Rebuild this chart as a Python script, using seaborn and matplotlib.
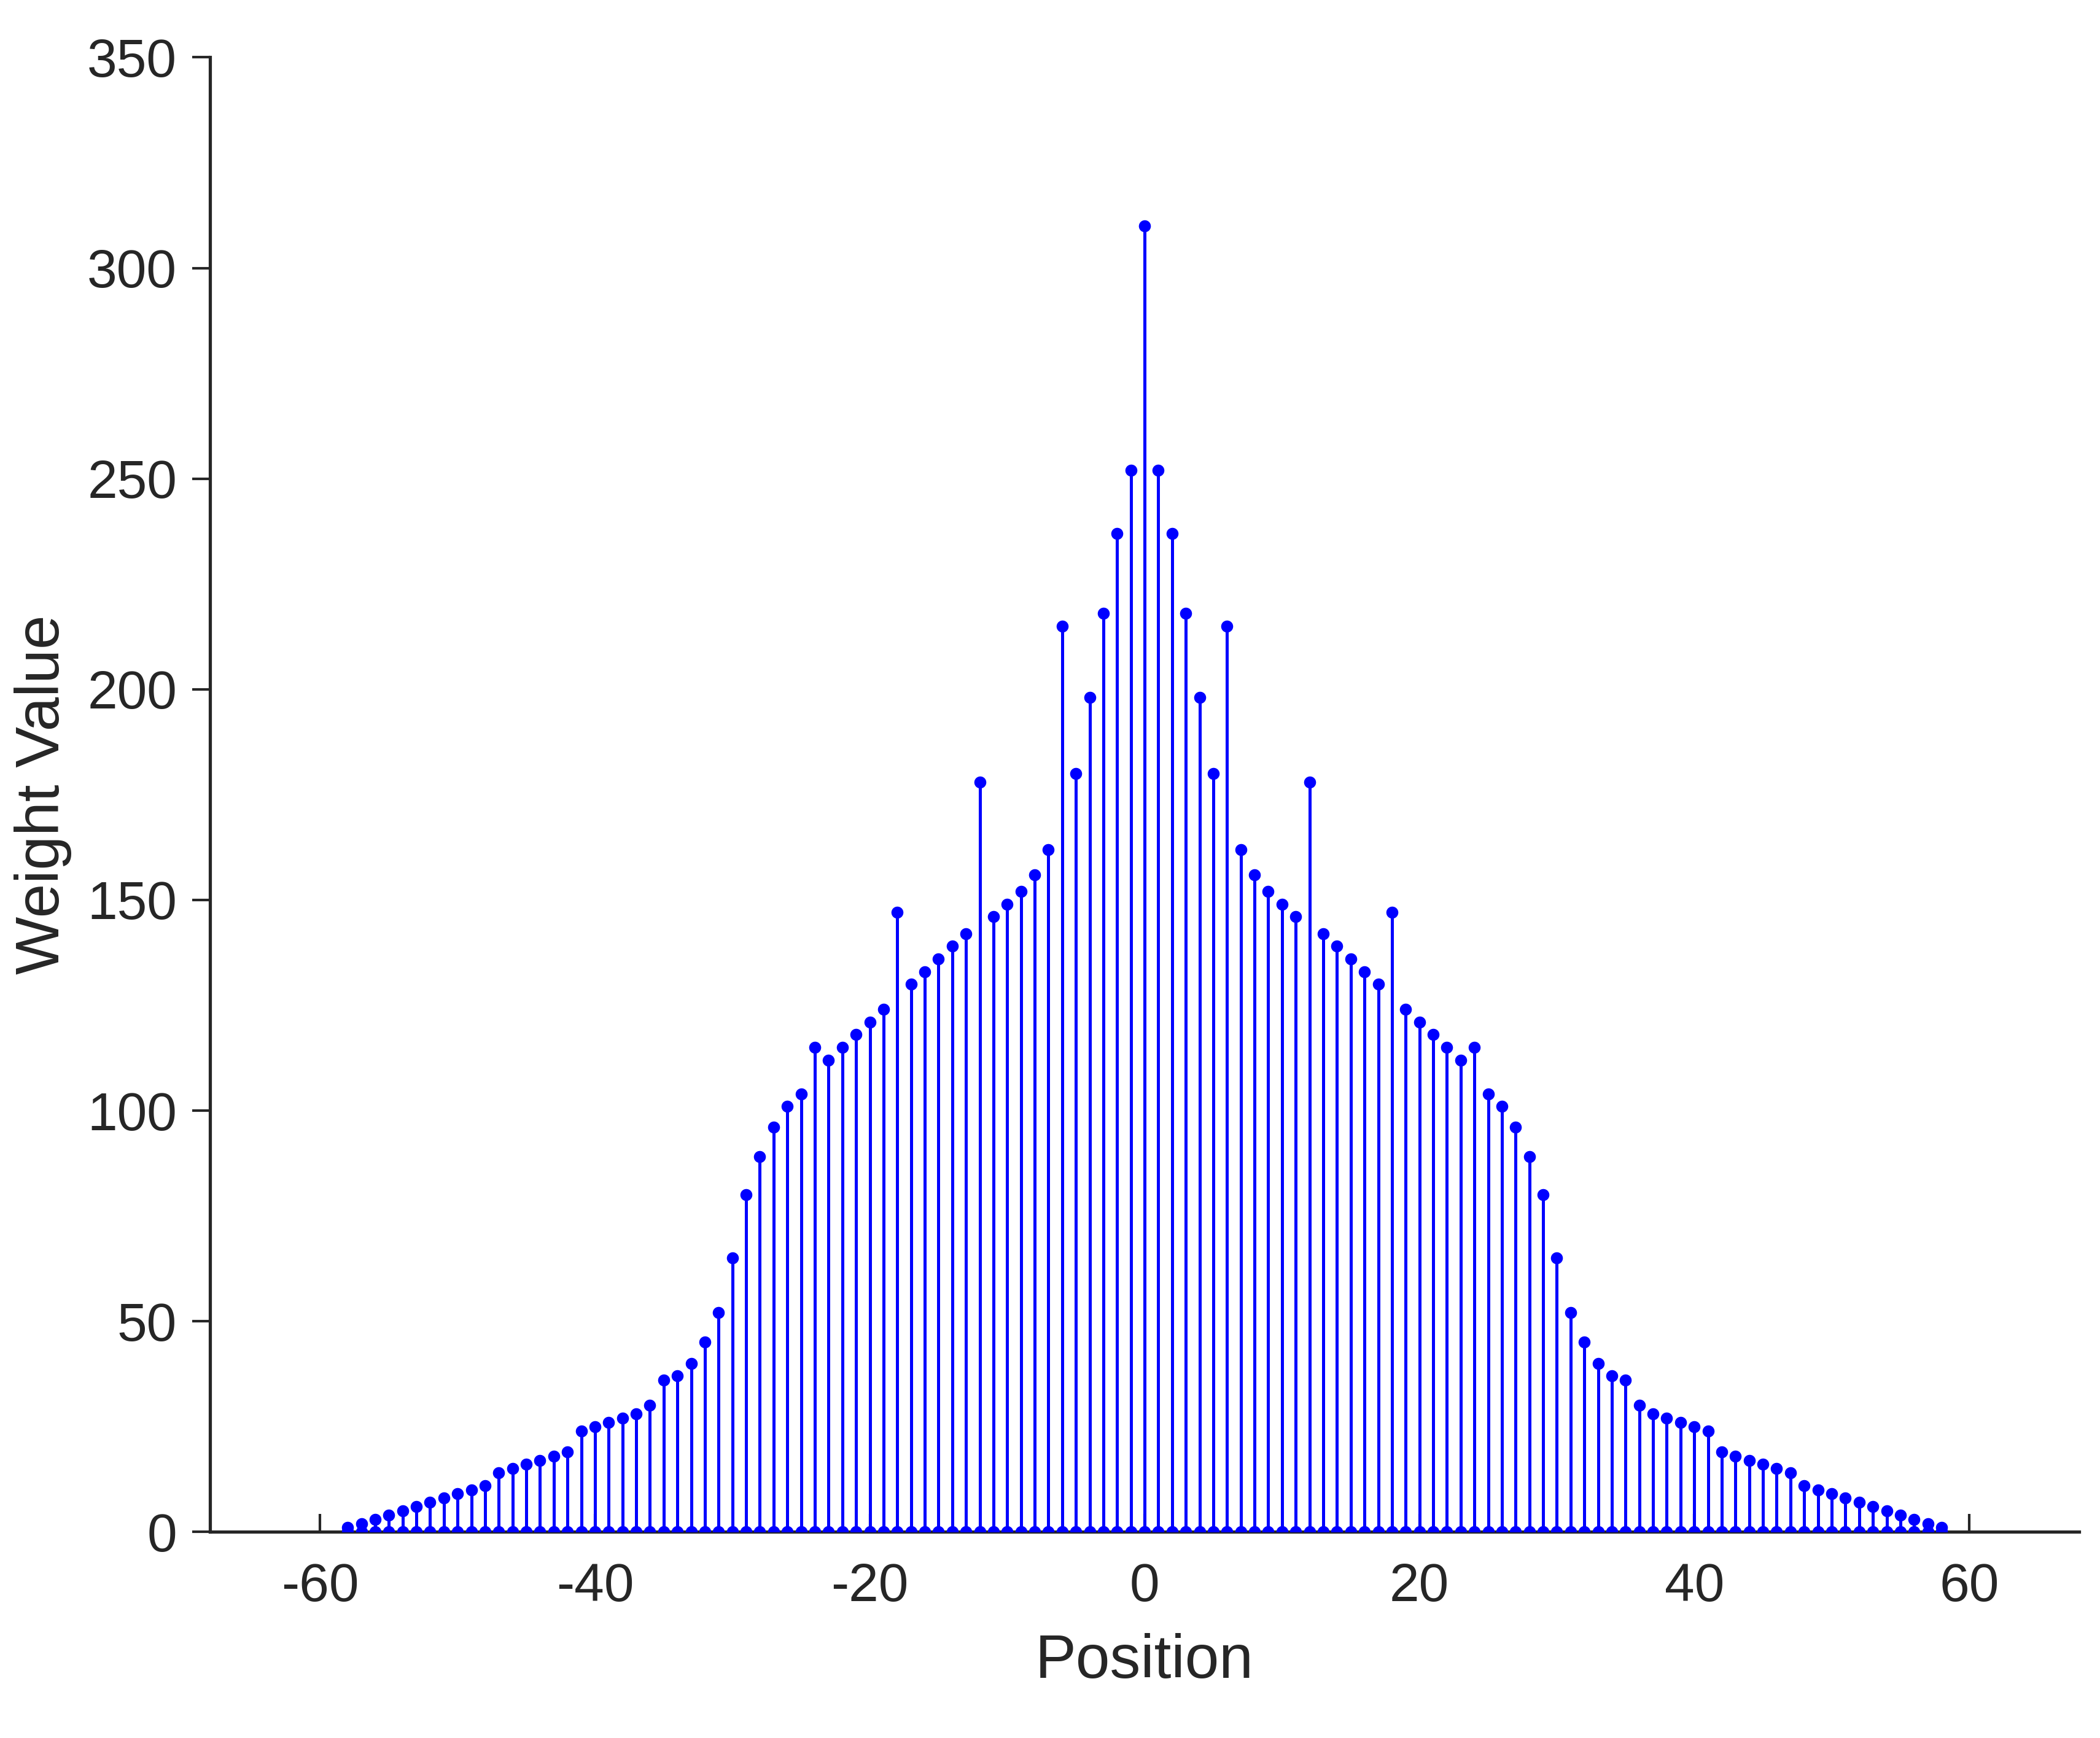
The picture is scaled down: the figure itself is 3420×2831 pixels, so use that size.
import numpy as np
import pandas as pd
import matplotlib
matplotlib.use("Agg")
import matplotlib.pyplot as plt
import seaborn as sns

# right half of the weights (position 0..58), the chart is symmetric
half_weights = [310, 252, 237, 218, 198, 180, 215, 162, 156, 152, 149, 146, 178, 142, 139,
                136, 133, 130, 147, 124, 121, 118, 115, 112, 115, 104, 101, 96, 89, 80,
                65, 52, 45, 40, 37, 36, 30, 28, 27, 26, 25, 24, 19, 18, 17, 16, 15, 14,
                11, 10, 9, 8, 7, 6, 5, 4, 3, 2, 1]
positions = list(range(-58, 59))
weights = half_weights[:0:-1] + half_weights

df = pd.DataFrame({"Position": positions, "Weight": weights})

sns.set_theme(style="ticks")
plt.rcParams["font.family"] = ["Liberation Sans", "DejaVu Sans"]
plt.rcParams["axes.unicode_minus"] = False
text_col = "#262626"

fig = plt.figure(figsize=(11.4, 9.4367), dpi=300)
ax = fig.add_axes([0.1001, 0.1186, 0.8899, 0.8484])

ax.vlines(df["Position"], 0, df["Weight"], color="blue", lw=1.2)
sns.scatterplot(data=df, x="Position", y="Weight", ax=ax, color="blue", s=22,
                edgecolor="blue", linewidth=0, zorder=3)
sns.scatterplot(x=df["Position"], y=np.zeros(len(df)), ax=ax, color="blue", s=22,
                edgecolor="blue", linewidth=0, zorder=3)

ax.set_xlim(-68, 68)
ax.set_ylim(0, 350)
ax.set_xticks(range(-60, 61, 20))
ax.set_yticks(range(0, 351, 50))
ax.set_xlabel("Position", fontsize=24, color=text_col)
ax.set_ylabel("Weight Value", fontsize=24, color=text_col)
ax.tick_params(labelsize=21, colors=text_col, length=7, width=1)
ax.tick_params(axis="x", direction="in", pad=12)
ax.tick_params(axis="y", direction="out", pad=6)
ax.xaxis.labelpad = 8
ax.yaxis.labelpad = 6
sns.despine(ax=ax)
for s in ("left", "bottom"):
    ax.spines[s].set_color(text_col)

fig.savefig("out.png", dpi=300)
